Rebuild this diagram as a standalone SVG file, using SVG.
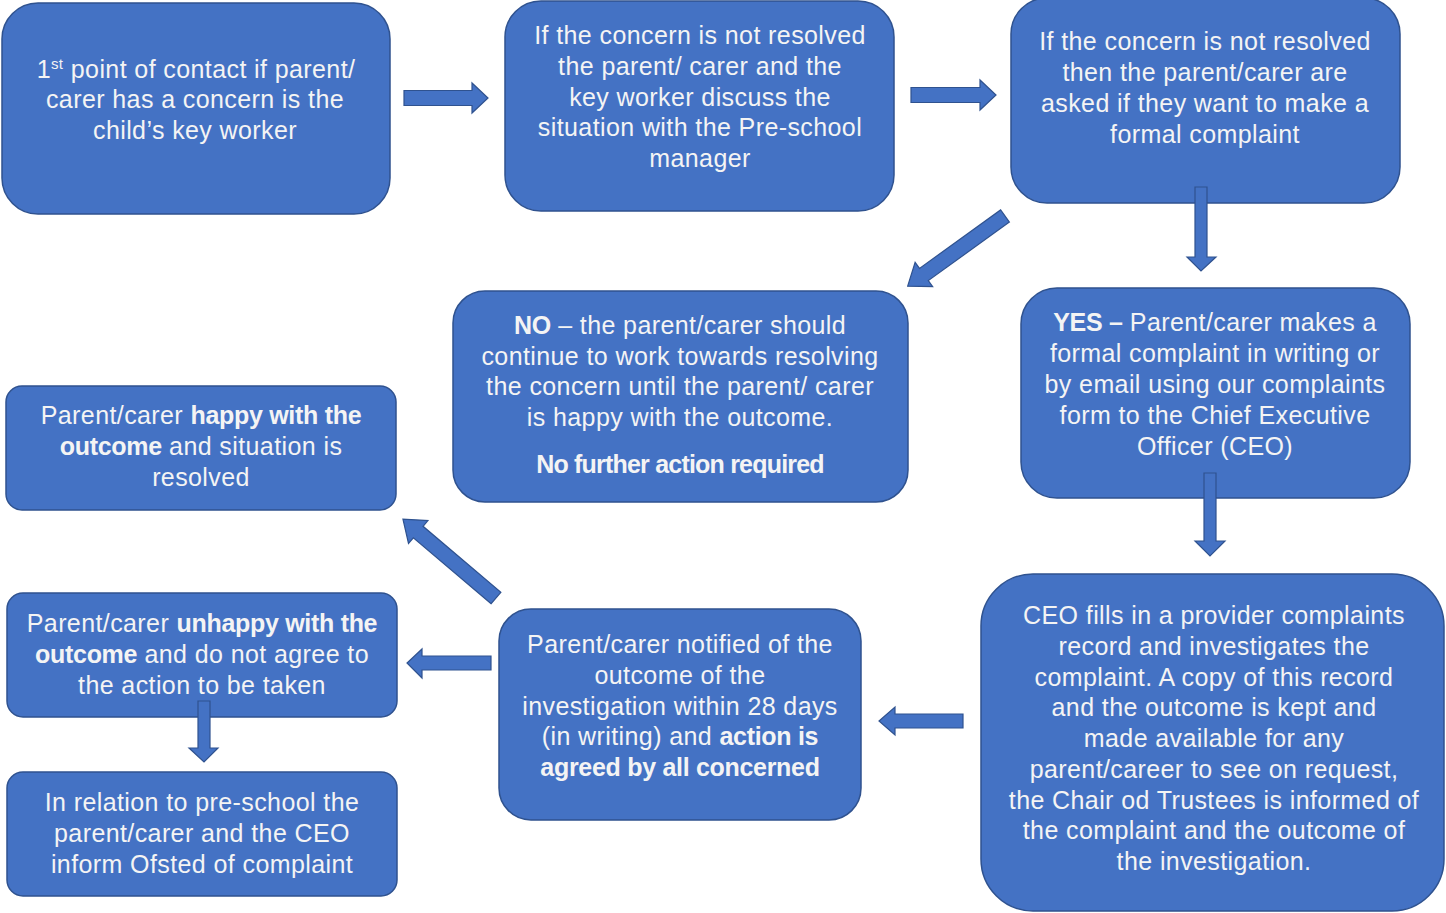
<svg xmlns="http://www.w3.org/2000/svg" width="1446" height="913" viewBox="0 0 1446 913">
<style>
.box{fill:#4472C4;stroke:#2F528F;stroke-width:1.5}
.arrow{fill:#4472C4;stroke:#2F528F;stroke-width:1.2;stroke-linejoin:miter}
text{font-family:"Liberation Sans",Arial,sans-serif;font-size:25px;fill:#F4F4F4;text-anchor:middle;letter-spacing:0.4px}
.b{font-weight:bold;letter-spacing:-0.3px}
</style>
<rect width="1446" height="913" fill="#FFFFFF"/>
<g id="node-first-contact">
<rect class="box" x="2" y="3" width="388" height="211" rx="36"/>
<text x="196" y="78">1<tspan font-size="15" dy="-9">st</tspan><tspan dy="9"> point of contact if parent/</tspan></text>
<text x="195" y="108">carer has a concern is the</text>
<text x="195" y="139">child’s key worker</text>
</g>
<g id="node-key-worker-discuss">
<rect class="box" x="505" y="1" width="389" height="210" rx="36"/>
<text x="700" y="44">If the concern is not resolved</text>
<text x="700" y="75">the parent/ carer and the</text>
<text x="700" y="106">key worker discuss the</text>
<text x="700" y="136">situation with the Pre-school</text>
<text x="700" y="167">manager</text>
</g>
<g id="node-formal-complaint-question">
<rect class="box" x="1011" y="-2" width="389" height="205" rx="36"/>
<text x="1205" y="50">If the concern is not resolved</text>
<text x="1205" y="81">then the parent/carer are</text>
<text x="1205" y="112">asked if they want to make a</text>
<text x="1205" y="143">formal complaint</text>
</g>
<g id="node-no">
<rect class="box" x="453" y="291" width="455" height="211" rx="32"/>
<text x="680" y="334"><tspan class="b">NO</tspan> – the parent/carer should</text>
<text x="680" y="365">continue to work towards resolving</text>
<text x="680" y="395">the concern until the parent/ carer</text>
<text x="680" y="426">is happy with the outcome.</text>
<text x="680" y="473" class="b" style="letter-spacing:-0.8px">No further action required</text>
</g>
<g id="node-yes">
<rect class="box" x="1021" y="288" width="389" height="210" rx="36"/>
<text x="1215" y="331"><tspan class="b">YES –</tspan> Parent/carer makes a</text>
<text x="1215" y="362">formal complaint in writing or</text>
<text x="1215" y="393">by email using our complaints</text>
<text x="1215" y="424">form to the Chief Executive</text>
<text x="1215" y="455">Officer (CEO)</text>
</g>
<g id="node-happy">
<rect class="box" x="6" y="386" width="390" height="124" rx="16"/>
<text x="201" y="424">Parent/carer <tspan class="b">happy with the</tspan></text>
<text x="201" y="455"><tspan class="b">outcome</tspan> and situation is</text>
<text x="201" y="486">resolved</text>
</g>
<g id="node-unhappy">
<rect class="box" x="7" y="593" width="390" height="124" rx="16"/>
<text x="202" y="632">Parent/carer <tspan class="b">unhappy with the</tspan></text>
<text x="202" y="663"><tspan class="b">outcome</tspan> and do not agree to</text>
<text x="202" y="694">the action to be taken</text>
</g>
<g id="node-ofsted">
<rect class="box" x="7" y="772" width="390" height="124" rx="16"/>
<text x="202" y="811">In relation to pre-school the</text>
<text x="202" y="842">parent/carer and the CEO</text>
<text x="202" y="873">inform Ofsted of complaint</text>
</g>
<g id="node-notified">
<rect class="box" x="499" y="609" width="362" height="211" rx="32"/>
<text x="680" y="653">Parent/carer notified of the</text>
<text x="680" y="684">outcome of the</text>
<text x="680" y="715">investigation within 28 days</text>
<text x="680" y="745">(in writing) and <tspan class="b">action is</tspan></text>
<text x="680" y="776" class="b">agreed by all concerned</text>
</g>
<g id="node-ceo">
<rect class="box" x="981" y="574" width="463" height="337" rx="52"/>
<text x="1214" y="624">CEO fills in a provider complaints</text>
<text x="1214" y="655">record and investigates the</text>
<text x="1214" y="686">complaint. A copy of this record</text>
<text x="1214" y="716">and the outcome is kept and</text>
<text x="1214" y="747">made available for any</text>
<text x="1214" y="778">parent/career to see on request,</text>
<text x="1214" y="809">the Chair od Trustees is informed of</text>
<text x="1214" y="839">the complaint and the outcome of</text>
<text x="1214" y="870">the investigation.</text>
</g>
<g id="connectors">
<polygon class="arrow" points="404,90.5 472,90.5 472,83 488,98 472,113 472,105.5 404,105.5"/>
<polygon class="arrow" points="911,87.5 980,87.5 980,80 996,95 980,110 980,102.5 911,102.5"/>
<polygon class="arrow" transform="translate(1005,216) rotate(144.2)" points="0,-7.5 100,-7.5 100,-15 120,0 100,15 100,7.5 0,7.5"/>
<polygon class="arrow" points="1195,187 1207,187 1207,257 1216,257 1201,271 1187,257 1195,257"/>
<polygon class="arrow" points="1204,473 1216,473 1216,541 1225,541 1210,556 1195,541 1204,541"/>
<polygon class="arrow" points="963,714 895,714 895,707 879,721 895,735 895,728 963,728"/>
<polygon class="arrow" transform="translate(496,598) rotate(-139.7)" points="0,-7.5 102,-7.5 102,-15 122,0 102,15 102,7.5 0,7.5"/>
<polygon class="arrow" points="491,656 422,656 422,649 407,663 422,678 422,670 491,670"/>
<polygon class="arrow" points="198,701 210,701 210,748 218,748 204,762 189,748 198,748"/>
</g>
</svg>
